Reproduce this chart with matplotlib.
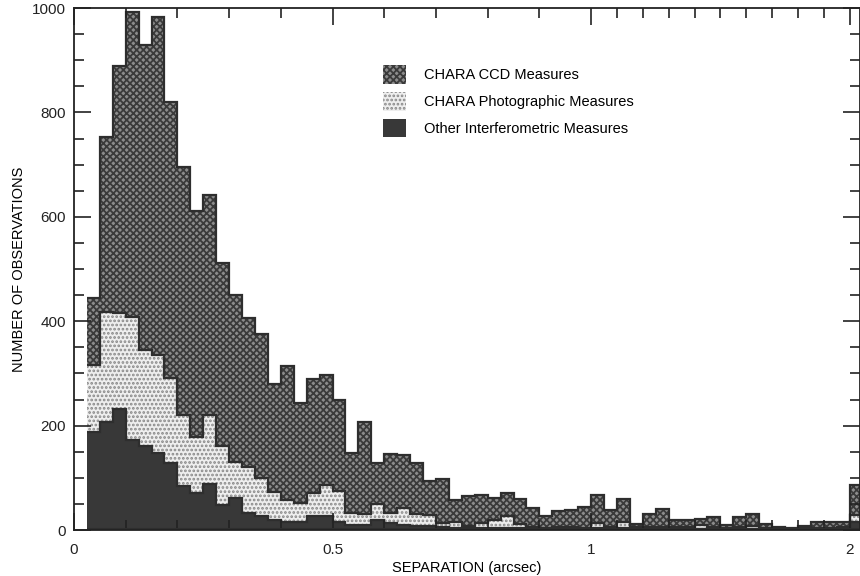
import numpy as np
import matplotlib
matplotlib.use("Agg")
import matplotlib.pyplot as plt
from matplotlib.patches import Patch
from matplotlib.ticker import MultipleLocator, FixedLocator

# bin edges (arcsec): 0.025 wide up to 1", 0.05 wide from 1" to 2", plus one bin past 2"
edges_fine = [0.025 * i for i in range(1, 41)]
edges_coarse = [1.0 + 0.05 * i for i in range(1, 22)]
edges = np.array(edges_fine + edges_coarse)

# stack totals
total = [444, 753, 888, 993, 929, 983, 819, 696, 612, 642,
         512, 451, 407, 375, 279, 314, 243, 289, 296, 249,
         147, 206, 129, 146, 144, 128, 93, 98, 58, 65,
         67, 61, 71, 59, 43, 27, 36, 38, 45,
         67, 38, 59, 11, 30, 40, 20, 20, 21, 24,
         10, 24, 31, 11, 5, 3, 8, 16, 16, 16, 86]
# top of photographic layer (photographic + other)
photo_top = [317, 418, 415, 409, 345, 335, 291, 220, 179, 220,
             160, 131, 120, 99, 73, 57, 51, 70, 86, 74,
             33, 31, 50, 33, 43, 31, 29, 14, 15, 7,
             14, 19, 27, 11, 6, 4, 5, 5, 3,
             14, 6, 15, 5, 5, 5, 5, 5, 9, 5,
             4, 5, 8, 4, 3, 2, 3, 4, 4, 5, 29]
other = [188, 207, 231, 172, 160, 148, 128, 84, 71, 89,
         48, 61, 32, 26, 19, 16, 16, 26, 26, 16,
         10, 10, 19, 14, 10, 8, 7, 6, 4, 3,
         3, 3, 4, 3, 3, 2, 2, 2, 2,
         3, 2, 3, 2, 2, 2, 2, 2, 2, 2,
         2, 2, 2, 2, 1, 1, 1, 2, 2, 2, 16]

total = np.array(total)
photo_top = np.array(photo_top)
other = np.array(other)

labels = ["CHARA CCD Measures", "CHARA Photographic Measures",
          "Other Interferometric Measures"]


def fwd(x):
    x = np.asarray(x, dtype=float)
    return np.where(x <= 1, x, 1 + (x - 1) / 2)


def inv(y):
    y = np.asarray(y, dtype=float)
    return np.where(y <= 1, y, 1 + (y - 1) * 2)


plt.rcParams["font.family"] = ["Liberation Sans", "DejaVu Sans"]
plt.rcParams["hatch.linewidth"] = 1.3

fig = plt.figure(figsize=(8.6, 5.76), dpi=100)
ax = fig.add_axes([74 / 860, 46 / 576, 786 / 860, 522 / 576])
ax.set_xscale("function", functions=(fwd, inv))

sty_other = dict(facecolor="#383838", edgecolor="#383838", linewidth=0)
sty_photo = dict(facecolor="#eeeeee", edgecolor="#888888", hatch="....", linewidth=0)
sty_ccd = dict(facecolor="#8c8c8c", edgecolor="#3a3a3a", hatch="xxxxx", linewidth=0)

ax.stairs(other, edges, baseline=0, fill=True, **sty_other)
ax.stairs(photo_top, edges, baseline=other, fill=True, **sty_photo)
ax.stairs(total, edges, baseline=photo_top, fill=True, **sty_ccd)
for top in (other, photo_top, total):
    ax.stairs(top, edges, baseline=None, color="#2e2e2e", linewidth=1.6)
ax.plot([edges[0], edges[-1]], [0, 0], color="#2e2e2e", lw=3, solid_capstyle="butt")

ax.set_xlim(0, 2.04)
ax.set_ylim(0, 1000)
ax.xaxis.set_major_locator(FixedLocator([0, 0.5, 1, 2]))
ax.xaxis.set_major_formatter(plt.FuncFormatter(lambda v, p: f"{v:g}"))
ax.xaxis.set_minor_locator(FixedLocator(np.r_[np.arange(0.1, 1.0, 0.1), np.arange(1.1, 2.0, 0.1)]))
ax.yaxis.set_major_locator(MultipleLocator(200))
ax.yaxis.set_minor_locator(MultipleLocator(50))
ax.tick_params(which="both", direction="in", top=True, right=True, colors="#222222",
               labelsize=11)
ax.tick_params(axis="x", pad=9)
ax.tick_params(axis="y", pad=6)
ax.tick_params(which="major", length=12, width=1.2)
ax.tick_params(which="minor", length=7, width=1.2)
for s in ax.spines.values():
    s.set_linewidth(1.3)
    s.set_color("#222222")

ax.set_xlabel("SEPARATION (arcsec)", fontsize=10.5, labelpad=3)
ax.set_ylabel("NUMBER OF OBSERVATIONS", fontsize=10.5, labelpad=4)

handles = [Patch(**sty_ccd), Patch(**sty_photo), Patch(**sty_other)]
fig.legend(handles, labels, loc="upper left", bbox_to_anchor=(370 / 860, 1 - 52 / 576),
           frameon=False, fontsize=10.5, handlelength=1.6, handleheight=1.6,
           labelspacing=0.55, handletextpad=1.2)

fig.savefig("out.png", dpi=100)
